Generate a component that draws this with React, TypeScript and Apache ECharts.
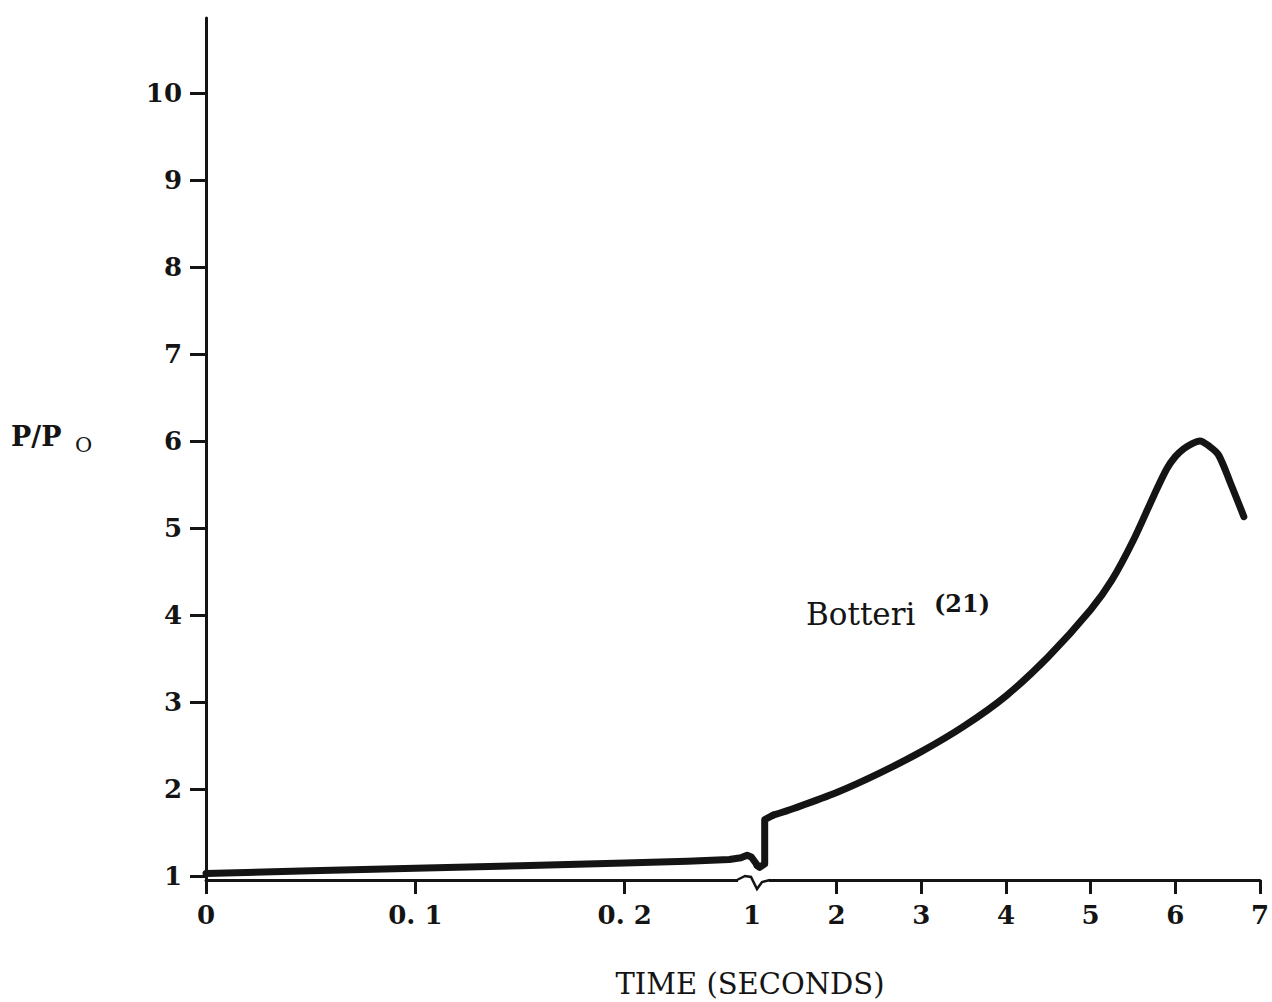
import React, { useEffect, useRef } from "react";
import * as echarts from "echarts";

// ---- data ----
const leftTicks = [0, 0.1, 0.2];
const leftTickLabels = ["0", "0. 1", "0. 2"];
const rightTicks = [1, 2, 3, 4, 5, 6, 7];
const rightTickLabels = ["1", "2", "3", "4", "5", "6", "7"];
const yTicks = [1, 2, 3, 4, 5, 6, 7, 8, 9, 10];

// early part (seconds 0 – ~0.26)
const earlyTime = [0, 0.05, 0.1, 0.15, 0.2, 0.23, 0.25, 0.2555, 0.2585, 0.2605, 0.2632];
const earlyP = [1.03, 1.06, 1.09, 1.12, 1.15, 1.17, 1.19, 1.21, 1.24, 1.22, 1.13];

// dip and jump just after 1 s
const jumpTime = [1.06, 1.09, 1.15, 1.15, 1.25];
const jumpP = [1.12, 1.1, 1.14, 1.65, 1.7];

// rising part (seconds 1.25 – 6.81)
const riseTime = [1.25, 1.5, 2.0, 2.5, 3.0, 3.5, 4.0, 4.5, 5.0, 5.25, 5.5, 5.75, 5.9, 6.0, 6.1, 6.2, 6.29, 6.4, 6.51, 6.65, 6.81];
const riseP = [1.7, 1.78, 1.96, 2.18, 2.43, 2.72, 3.07, 3.52, 4.06, 4.4, 4.85, 5.38, 5.68, 5.82, 5.91, 5.97, 6.0, 5.94, 5.84, 5.52, 5.13];

const INK = "#141414";
const SERIF = "'DejaVu Serif', serif";

function pick(values: number[], labels: string[], v: number) {
  let best = 0;
  for (let i = 1; i < values.length; i++) {
    if (Math.abs(values[i] - v) < Math.abs(values[best] - v)) best = i;
  }
  return labels[best];
}

export default function App() {
  const ref = useRef<HTMLDivElement>(null);
  useEffect(() => {
    document.body.style.margin = "0";
    const chart = echarts.init(ref.current!, null, { renderer: "svg" });
    const yMin = 0.955;
    const yMax = 10.86;
    const axisLine = { show: true, onZero: false, lineStyle: { color: INK, width: 3 } };
    const labelStyle = { color: INK, fontFamily: SERIF, fontWeight: "bold" as const, fontSize: 26 };
    const lineStyle = { color: INK, width: 7, cap: "round", join: "round" };
    chart.setOption({
      animation: false,
      backgroundColor: "#ffffff",
      grid: [
        { left: 206, top: 18, width: 551, height: 862 },
        { left: 752, top: 18, width: 512, height: 862 },
      ],
      xAxis: [
        {
          gridIndex: 0, type: "value", min: 0, max: 0.2632,
          axisLine,
          axisTick: { show: true, customValues: leftTicks, length: 14, lineStyle: { color: INK, width: 3 } },
          axisLabel: { ...labelStyle, customValues: leftTicks, margin: 22, formatter: (v: number) => pick(leftTicks, leftTickLabels, v) },
          splitLine: { show: false },
        },
        {
          gridIndex: 1, type: "value", min: 1, max: 7,
          axisLine,
          axisTick: { show: true, customValues: rightTicks.slice(1), length: 14, lineStyle: { color: INK, width: 3 } },
          axisLabel: { ...labelStyle, customValues: rightTicks, margin: 22, formatter: (v: number) => pick(rightTicks, rightTickLabels, v) },
          splitLine: { show: false },
        },
      ],
      yAxis: [
        {
          gridIndex: 0, type: "value", min: yMin, max: yMax,
          axisLine,
          axisTick: { show: true, customValues: yTicks, length: 16, lineStyle: { color: INK, width: 3 } },
          axisLabel: { ...labelStyle, customValues: yTicks, margin: 24, formatter: (v: number) => String(Math.round(v)) },
          splitLine: { show: false },
        },
        { gridIndex: 1, type: "value", min: yMin, max: yMax, show: false, splitLine: { show: false } },
      ],
      series: [
        {
          type: "line", xAxisIndex: 0, yAxisIndex: 0, showSymbol: false, symbol: "none",
          data: earlyTime.map((t, i) => [t, earlyP[i]]),
          lineStyle,
        },
        {
          type: "line", xAxisIndex: 1, yAxisIndex: 1, showSymbol: false, symbol: "none",
          data: jumpTime.map((t, i) => [t, jumpP[i]]),
          lineStyle,
        },
        {
          type: "line", xAxisIndex: 1, yAxisIndex: 1, showSymbol: false, symbol: "none",
          smooth: 0.3,
          data: riseTime.map((t, i) => [t, riseP[i]]),
          lineStyle,
        },
      ],
      graphic: [
        { type: "rect", shape: { x: 738, y: 876, width: 31, height: 8 }, style: { fill: "#ffffff" }, z: 100 },
        {
          type: "polyline", z: 101,
          shape: { points: [[737, 880], [745, 876], [751, 877], [757, 889], [762, 882], [770, 880]] },
          style: { stroke: INK, lineWidth: 2.5, fill: "none" },
        },
        { type: "text", x: 11, y: 423, style: { text: "P/P", fill: INK, font: `bold 27px ${SERIF}` } },
        { type: "text", x: 75, y: 434, style: { text: "O", fill: INK, font: `21px ${SERIF}` } },
        { type: "text", x: 806, y: 598, style: { text: "Botteri", fill: INK, font: `31px ${SERIF}` } },
        { type: "text", x: 934, y: 591, style: { text: "(21)", fill: INK, font: `bold 24px ${SERIF}` } },
        {
          type: "text", x: 750, y: 984,
          style: { text: "TIME (SECONDS)", fill: INK, font: `29px ${SERIF}`, align: "center", verticalAlign: "middle" },
        },
      ],
    });
    return () => chart.dispose();
  }, []);
  return <div ref={ref} style={{ width: 1272, height: 1002 }} />;
}
